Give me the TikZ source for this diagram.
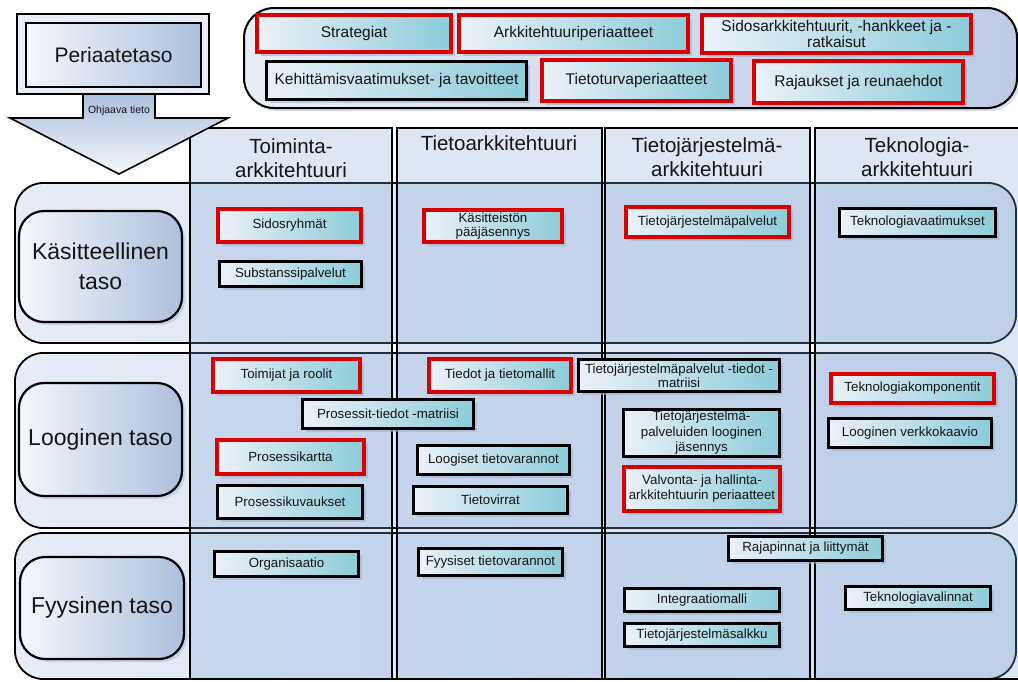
\documentclass[tikz,border=0pt]{standalone}
\usepackage{fontspec}
\setmainfont{Liberation Sans}
\usetikzlibrary{shadows}
\definecolor{itemL}{HTML}{ECF1F8}
\definecolor{itemR}{HTML}{8CCCD9}
\definecolor{darkred}{HTML}{6A0000}
\definecolor{brightred}{HTML}{D80000}
\definecolor{shadowc}{HTML}{9DB0CE}
\definecolor{txt}{HTML}{151515}
\definecolor{colblue}{HTML}{86A6D4}
\definecolor{layL}{HTML}{E5ECF6}
\definecolor{layR}{HTML}{D4DFF0}
\definecolor{lblL}{HTML}{F4F7FB}
\definecolor{lblR}{HTML}{AEC0DC}
\definecolor{topL}{HTML}{E8EDF7}
\definecolor{topR}{HTML}{BDCBE6}
\begin{document}
\begin{tikzpicture}[x=1pt,y=-1pt,
  item/.style={rectangle, inner sep=1pt, align=center, left color=itemL, right color=itemR,
    font=\fontsize{13.3}{15}\selectfont, text=txt,
    drop shadow={shadow xshift=3.5pt,shadow yshift=-3.5pt,fill=shadowc,opacity=0.6}},
  redbox/.style={item, draw=darkred, double=brightred, double distance=3.4pt, line width=0.6pt},
  blackbox/.style={item, draw=black, line width=2.6pt},
  big/.style={font=\fontsize{15.5}{16.5}\selectfont},
  layer/.style={draw=black, line width=1.8pt, rounded corners=28pt, left color=layL, right color=layR},
  column/.style={draw=black, line width=2pt, fill=colblue, fill opacity=0.28},
  header/.style={align=center, font=\fontsize{20.5}{24}\selectfont, text=txt},
  lbl/.style={rectangle, rounded corners=25pt, draw=black, line width=2.2pt, left color=lblL, right color=lblR,
    align=center, font=\fontsize{23}{30}\selectfont, text=txt,
    drop shadow={shadow xshift=3pt,shadow yshift=-3pt,fill=shadowc,opacity=0.4}},
]
\useasboundingbox (0,0) rectangle (1018,681);
\fill[white] (0,0) rectangle (1018,681);

% top container
\draw[draw=black, line width=2pt, rounded corners=30pt, left color=topL, right color=topR,
  drop shadow={shadow xshift=3pt,shadow yshift=-3pt,fill=shadowc,opacity=0.4}]
  (244,8) rectangle (1017,108);

% layers
\draw[layer] (15,183) rectangle (1016,343);
\draw[layer] (15,353) rectangle (1016,528);
\draw[layer] (15,533) rectangle (1016,679);

% columns
\draw[column] (190,128) rectangle (392,679);
\draw[column] (397,128) rectangle (602,679);
\draw[column] (605,128) rectangle (810,679);
\draw[column] (815,128) rectangle (1024,679);

% column headers
\node[header] (hToim) at (291,158) {Toiminta-\\arkkitehtuuri};
\node[header] (hTieto) at (499,143) {Tietoarkkitehtuuri};
\node[header] (hTJ) at (707,157) {Tietojärjestelmä-\\arkkitehtuuri};
\node[header] (hTek) at (917,157) {Teknologia-\\arkkitehtuuri};

% Periaatetaso box
\draw[draw=black, line width=1.6pt, fill=topL] (17,14) rectangle (209,94);
\node[rectangle, draw=black, line width=2.6pt, left color=lblL, right color=lblR,
  minimum width=175pt, minimum height=64pt, font=\fontsize{21}{24}\selectfont, text=txt]
  (peri) at (113.5,55) {Periaatetaso};

% arrow
\draw[draw=black, line width=1.6pt, top color=lblR, bottom color=lblL]
  (83,94) -- (155,94) -- (155,118) -- (228,118) -- (119,174) -- (10,118) -- (83,118) -- cycle;
\node[font=\fontsize{10.5}{12}\selectfont, text=txt] (ohj) at (119,111) {Ohjaava tieto};

% layer labels
\node[lbl, minimum width=163pt, minimum height=111pt] (kasLbl) at (100.5,266.5) {Käsitteellinen\\taso};
\node[lbl, minimum width=163pt, minimum height=113pt] (logLbl) at (100.5,439.5) {Looginen taso};
\node[lbl, minimum width=164pt, minimum height=102pt] (fyyLbl) at (102,608) {Fyysinen taso};

% top items
\node[redbox, big, minimum width=194pt, minimum height=37pt] (strat) at (354,33.5) {Strategiat};
\node[redbox, big, minimum width=229pt, minimum height=37pt] (arkper) at (573.5,33.5) {Arkkitehtuuriperiaatteet};
\node[redbox, big, minimum width=269pt, minimum height=38pt] (sidos) at (836.5,34) {Sidosarkkitehtuurit, -hankkeet ja -\\ratkaisut};
\node[blackbox, big, minimum width=260pt, minimum height=38pt] (kehit) at (396.5,80.5) {Kehittämisvaatimukset- ja tavoitteet};
\node[redbox, big, minimum width=189pt, minimum height=41pt] (tietot) at (636.5,80.5) {Tietoturvaperiaatteet};
\node[redbox, big, minimum width=209pt, minimum height=42pt] (rajauk) at (858.5,82) {Rajaukset ja reunaehdot};

% Käsitteellinen
\node[redbox, minimum width=143pt, minimum height=33pt] (sidosr) at (289.5,225.5) {Sidosryhmät};
\node[blackbox, minimum width=142pt, minimum height=25pt] (subst) at (290.5,274) {Substanssipalvelut};
\node[redbox, font=\fontsize{13.3}{14}\selectfont, minimum width=138pt, minimum height=32pt] (kasitt) at (493,226) {Käsitteistön\\pääjäsennys};
\node[redbox, minimum width=163pt, minimum height=30pt] (tjpalv) at (707.5,222) {Tietojärjestelmäpalvelut};
\node[blackbox, minimum width=156pt, minimum height=28pt] (teknv) at (917.5,222.5) {Teknologiavaatimukset};

% Looginen
\node[redbox, minimum width=147pt, minimum height=33pt] (toimij) at (286.5,375.5) {Toimijat ja roolit};
\node[redbox, minimum width=142pt, minimum height=33pt] (tiedot) at (500,375.5) {Tiedot ja tietomallit};
\node[blackbox, font=\fontsize{13.3}{14.5}\selectfont, minimum width=201pt, minimum height=32pt] (tjmatr) at (679,375.5) {Tietojärjestelmäpalvelut -tiedot -\\matriisi};
\node[blackbox, minimum width=171pt, minimum height=29pt] (prosmatr) at (388,414) {Prosessit-tiedot -matriisi};
\node[redbox, minimum width=147pt, minimum height=34pt] (proskart) at (290.5,457) {Prosessikartta};
\node[blackbox, minimum width=145pt, minimum height=33pt] (proskuv) at (290,502) {Prosessikuvaukset};
\node[blackbox, minimum width=152pt, minimum height=29pt] (logtv) at (493.5,460) {Loogiset tietovarannot};
\node[blackbox, minimum width=154pt, minimum height=27pt] (tvirr) at (490.5,500) {Tietovirrat};
\node[blackbox, font=\fontsize{13.3}{15.5}\selectfont, minimum width=156pt, minimum height=47pt] (tjlog) at (701.5,433) {Tietojärjestelmä-\\palveluiden looginen\\jäsennys};
\node[redbox, font=\fontsize{13.3}{15}\selectfont, minimum width=156pt, minimum height=44pt] (valv) at (702,489) {Valvonta- ja hallinta-\\arkkitehtuurin periaatteet};
\node[redbox, minimum width=163pt, minimum height=29pt] (tekkomp) at (912.5,388.5) {Teknologiakomponentit};
\node[blackbox, minimum width=163pt, minimum height=29pt] (logverk) at (910,433) {Looginen verkkokaavio};

% Fyysinen
\node[blackbox, minimum width=144pt, minimum height=25pt] (org) at (286.5,564) {Organisaatio};
\node[blackbox, minimum width=144pt, minimum height=27pt] (fyys) at (490.5,562) {Fyysiset tietovarannot};
\node[blackbox, minimum width=154pt, minimum height=24pt] (raja) at (805.5,548.5) {Rajapinnat ja liittymät};
\node[blackbox, minimum width=155pt, minimum height=23pt] (integ) at (702,600) {Integraatiomalli};
\node[blackbox, minimum width=155pt, minimum height=23pt] (tjsalk) at (702,635) {Tietojärjestelmäsalkku};
\node[blackbox, minimum width=145pt, minimum height=23pt] (tekval) at (918,598) {Teknologiavalinnat};
\end{tikzpicture}
\end{document}
